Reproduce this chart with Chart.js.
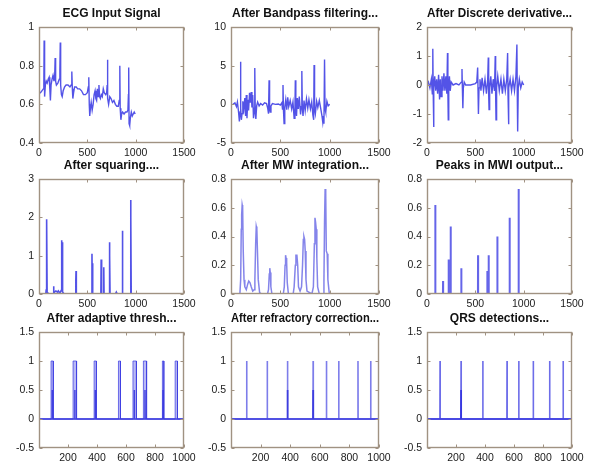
<!DOCTYPE html>
<html>
<head>
<meta charset="utf-8">
<script src="https://cdn.jsdelivr.net/npm/chart.js@4.4.0/dist/chart.umd.min.js"></script>
<style>
body { margin: 0; background: #fff; }
#wrap { position: relative; width: 592px; height: 465px; overflow: hidden; background: #fff; }
#wrap canvas { position: absolute; }
</style>
</head>
<body>
<div id="wrap"></div>
<script>
// ---- data ----
const titles = ["ECG Input Signal", "After Bandpass filtering...", "After Discrete derivative...",
  "After squaring....", "After MW integration...", "Peaks in MWI output...",
  "After adaptive thresh...", "After refractory correction...", "QRS detections..."];

const xTicksTop = [0, 500, 1000, 1500];
const xTicksBottom = [200, 400, 600, 800, 1000];
const ecgTicks = [0.4, 0.6, 0.8, 1];
const bpTicks = [-5, 0, 5, 10];
const dvTicks = [-2, -1, 0, 1, 2];
const sqTicks = [0, 1, 2, 3];
const mwTicks = [0, 0.2, 0.4, 0.6, 0.8];
const pulseTicks = [-0.5, 0, 0.5, 1, 1.5];

const ecgX = [0,15,30,45,50,53,56,60,66,75,85,95,105,112,118,125,135,145,155,162,167,172,180,195,210,216,220,224,232,240,250,265,280,300,320,333,338,341,345,350,358,368,385,400,420,440,460,480,500,510,515,520,525,532,540,550,560,570,580,588,596,604,612,620,627,635,645,655,665,675,690,700,705,708,712,720,732,745,760,775,790,805,820,830,836,840,847,855,865,880,895,910,920,925,928,932,938,945,955,965,975,985,995,1000];
const ecgY = [.66,.66,.67,.68,.70,.93,.66,.64,.70,.72,.71,.73,.74,.68,.62,.70,.73,.75,.72,.74,.84,.72,.70,.71,.73,.78,.92,.70,.65,.64,.67,.69,.70,.70,.69,.70,.72,.77,.68,.63,.66,.69,.69,.68,.68,.67,.65,.65,.66,.69,.74,.60,.54,.58,.61,.57,.60,.65,.67,.63,.62,.68,.64,.70,.64,.63,.65,.64,.68,.66,.65,.66,.70,.83,.63,.60,.64,.63,.61,.62,.60,.59,.59,.62,.80,.58,.52,.55,.56,.55,.56,.56,.57,.65,.79,.50,.49,.53,.56,.54,.55,.56,.55,.55];

const bpX = [20,40,55,65,75,85,92,96,100,105,112,120,130,140,148,155,162,170,178,188,196,205,212,220,228,236,241,246,252,260,270,285,300,320,340,360,372,380,386,391,397,405,420,450,480,500,515,522,527,532,538,545,555,565,575,585,600,615,628,640,648,652,657,664,672,682,692,705,712,718,723,730,740,752,765,778,790,805,818,830,838,842,847,855,868,880,895,910,922,930,936,942,948,953,960,972,985,1000];
const bpY = [0,.2,-.3,.3,-.8,-2.2,-1,5.5,-.5,-2.0,-1.2,.4,-.6,.8,-1.5,1.2,-1.8,.6,-.8,1.5,.2,1.6,-.4,1.2,-1.8,-.5,4.7,-1.2,-1.9,-.2,.3,-.2,.1,-.1,.2,.1,-.5,-1.2,3.1,-.4,-1.0,-.2,.1,0,.05,-.1,.2,-.6,2.5,-.8,-2.5,-.4,.6,-.7,.9,-.3,.5,-.6,.3,-1.8,-.8,3.1,-.5,-1.5,.8,-.6,1.0,-1.3,-.3,4.3,-.5,-1.5,.5,-.8,.7,-.5,.6,-.6,.3,-1.4,-2.0,5.1,-.5,-1.2,.4,-.4,.5,-.6,-1.5,-2.3,-1.5,-2.5,5.8,-.6,-1.0,.4,-.2,0];

const dvX = [0,15,30,45,55,60,64,68,72,80,90,100,110,120,130,138,145,155,165,175,185,195,205,212,216,220,225,232,240,250,270,300,330,355,362,366,371,376,385,400,450,500,515,524,528,532,538,548,558,570,585,600,615,628,634,638,642,648,660,672,685,698,706,710,714,720,732,748,765,780,795,810,825,834,838,842,848,860,875,890,905,920,930,934,938,944,955,970,985,1000];
const dvY = [0,.1,-.1,.2,-.3,1.25,-.2,-1.45,-.1,.3,-.2,.2,-.3,.35,-.5,.2,-.4,.3,-.2,.4,-.2,.3,-.3,1.1,-.2,-1.2,-.2,.3,-.2,.1,0,.05,0,.1,.55,-.1,-.8,-.1,.1,0,0,.05,.1,.6,-.2,-1.0,-.1,.2,-.2,.25,-.2,.2,-.3,.2,.95,-.3,-.85,-.1,.3,-.3,.2,-.2,1.0,-.3,-1.2,-.1,.3,-.2,.2,-.3,.2,-.2,.2,1.1,-.3,-1.35,-.1,.2,-.2,.2,-.2,.3,1.4,-.3,-1.6,-.1,.2,-.1,.1,0];

const sqX = [0,70,74,77,79,81,84,90,145,150,155,160,175,190,200,215,232,235,238,242,246,260,378,381,383,386,545,548,551,554,557,640,643,646,650,667,670,673,726,729,732,735,790,800,810,860,863,866,945,948,951,954,1000];
const sqY = [0,0,.1,1.55,.2,1.95,.05,0,0,.2,0,.05,.08,.05,.08,.02,.1,1.4,.2,1.35,.05,0,0,.35,.6,0,0,1.05,.3,.8,0,0,.9,.1,0,0,.7,0,0,1.35,1.0,0,0,.05,0,0,1.65,0,0,2.45,2.0,0,0];

const mwX = [0,90,98,104,108,113,118,124,132,140,155,170,180,192,205,220,235,242,250,256,262,268,276,290,310,370,380,388,393,398,404,415,530,540,548,553,558,564,570,582,630,640,652,658,668,676,684,700,715,725,733,739,746,752,760,770,820,835,845,851,857,864,870,878,895,935,942,948,954,960,966,975,982,995,1000];
const mwY = [0,0,.1,.45,.55,.62,.6,.3,.1,.05,.03,.07,.09,.08,.05,.02,.03,.1,.35,.47,.45,.3,.1,.01,0,0,.03,.14,.18,.15,.05,0,0,.05,.2,.27,.25,.22,.08,0,0,.05,.2,.27,.27,.2,.05,.02,.05,.2,.38,.40,.38,.3,.1,.02,0,.05,.35,.53,.5,.45,.25,.05,0,0,.1,.5,.73,.7,.3,.28,.1,.01,0];

const pkX = [86,166,224,245,355,528,624,638,728,855,948];
const pkH = [.62,.09,.24,.47,.18,.27,.16,.27,.4,.53,.73];

const thStart = [83,235,380,548,648,720,851,939];
const thEnd = [99,259,396,562,672,742,861,955];
const thHalf = [91,247,388,657,731,856];

const rfX = [106,245,382,555,645,728,858,944];
const rfHalf = [382,555];

const qrX = [90,235,385,552,633,733,846,939];
const qrHalf = [235];

// ---- helpers ----
const pts = (xs, ys) => xs.map((x, i) => ({ x: x, y: ys[i] }));
function spikes(xs, hs, w) {
  const p = [{ x: 0, y: 0 }];
  xs.forEach((x, i) => { p.push({ x: x - w, y: 0 }, { x: x, y: hs[i] }, { x: x + w, y: 0 }); });
  p.push({ x: 1000, y: 0 });
  return p;
}
function pulses(starts, ends, h) {
  const p = [{ x: 0, y: 0 }];
  starts.forEach((s, i) => { p.push({ x: s, y: 0 }, { x: s, y: h }, { x: ends[i], y: h }, { x: ends[i], y: 0 }); });
  p.push({ x: 1000, y: 0 });
  return p;
}
const fmt = v => String(Math.round(v * 1000) / 1000);

const BLUE = 'rgba(40,40,225,0.8)';
const PALE = 'rgba(100,100,230,0.45)';

// plot boxes in the page
const cols = [[39, 145], [231, 148], [427, 145]];
const rows = [[27, 116], [179, 115], [332, 116]];
const padL = 39, padT = 24, padB = 18, padR = 22;

const boxPlugin = {
  id: 'mbox',
  afterDatasetsDraw(chart) {
    const { ctx, chartArea: a, scales } = chart;
    const L = Math.round(a.left) + 0.5, R = Math.round(a.right) - 0.5;
    const T = Math.round(a.top) + 0.5, B = Math.round(a.bottom) - 0.5;
    ctx.save();
    ctx.strokeStyle = '#a09282';
    ctx.lineWidth = 1;
    ctx.beginPath();
    scales.x.ticks.forEach(t => {
      const p = Math.round(scales.x.getPixelForValue(t.value)) + 0.5;
      ctx.moveTo(p, B); ctx.lineTo(p, B - 3);
      ctx.moveTo(p, T); ctx.lineTo(p, T + 3);
    });
    scales.y.ticks.forEach(t => {
      const p = Math.round(scales.y.getPixelForValue(t.value)) + 0.5;
      ctx.moveTo(L, p); ctx.lineTo(L + 3, p);
      ctx.moveTo(R, p); ctx.lineTo(R - 3, p);
    });
    ctx.stroke();
    ctx.lineWidth = 1.4;
    ctx.strokeRect(L, T, R - L, B - T);
    ctx.restore();
  }
};

const wrap = document.getElementById('wrap');

function makeChart(idx, datasets, xTicks, xMax, yTicks) {
  const [left, w] = cols[idx % 3];
  const [top, h] = rows[Math.floor(idx / 3)];
  const cv = document.createElement('canvas');
  cv.width = w + padL + padR;
  cv.height = h + padT + padB;
  cv.style.left = (left - padL) + 'px';
  cv.style.top = (top - padT) + 'px';
  wrap.appendChild(cv);
  const tickFont = { family: 'Liberation Sans', size: 10.5 };
  new Chart(cv, {
    type: 'line',
    data: { datasets: datasets },
    plugins: [boxPlugin],
    options: {
      responsive: false,
      animation: false,
      layout: { padding: { left: 0, right: padR, top: 0, bottom: 0 } },
      elements: { point: { radius: 0 }, line: { tension: 0, borderWidth: 1.2 } },
      plugins: {
        legend: { display: false },
        tooltip: { enabled: false },
        title: {
          display: true, text: titles[idx], fullSize: false, color: '#111',
          font: { family: 'Liberation Sans', size: 12, weight: 'bold', lineHeight: '14px' },
          padding: { top: 4, bottom: 6 }
        }
      },
      scales: {
        x: {
          type: 'linear', min: 0, max: xMax,
          afterBuildTicks: s => { s.ticks = xTicks.map(v => ({ value: v })); },
          afterFit: s => { s.height = padB; },
          grid: { display: false, drawTicks: false },
          border: { display: false },
          ticks: { callback: fmt, font: tickFont, color: '#1a1a1a', padding: 4, maxRotation: 0, autoSkip: false }
        },
        y: {
          type: 'linear', min: yTicks[0], max: yTicks[yTicks.length - 1],
          afterBuildTicks: s => { s.ticks = yTicks.map(v => ({ value: v })); },
          afterFit: s => { s.width = padL; },
          grid: { display: false, drawTicks: false },
          border: { display: false },
          ticks: { callback: fmt, font: tickFont, color: '#1a1a1a', padding: 5, autoSkip: false }
        }
      }
    }
  });
}

const line = (data, extra) => Object.assign({ data: data, borderColor: BLUE, borderWidth: 1.4, fill: false }, extra || {});

makeChart(0, [line(pts(ecgX, ecgY))], xTicksTop, 1500, ecgTicks);
makeChart(1, [line(pts(bpX, bpY))], xTicksTop, 1500, bpTicks);
makeChart(2, [line(pts(dvX, dvY))], xTicksTop, 1500, dvTicks);
makeChart(3, [line(pts(sqX, sqY), { borderWidth: 1.6 })], xTicksTop, 1500, sqTicks);
makeChart(4, [line(pts(mwX, mwY), { borderColor: 'rgba(80,80,225,0.7)', borderWidth: 1.5 })], xTicksTop, 1500, mwTicks);
makeChart(5, [line(spikes(pkX, pkH, 1), { borderColor: 'rgba(50,50,225,0.75)', borderWidth: 2 })], xTicksTop, 1500, mwTicks);
makeChart(6, [
  line(pulses(thStart, thEnd, 1), { fill: 'origin', backgroundColor: PALE, borderColor: 'rgba(60,60,225,0.7)', borderWidth: 1 }),
  line(spikes(thHalf, thHalf.map(() => 0.5), 1), { borderColor: 'rgba(20,20,215,0.9)', borderWidth: 1.5 })
], xTicksBottom, 1000, pulseTicks);
makeChart(7, [
  line(spikes(rfX, rfX.map(() => 1), 1), { borderColor: 'rgba(70,70,225,0.7)', borderWidth: 1.6 }),
  line(spikes(rfHalf, rfHalf.map(() => 0.5), 1), { borderColor: 'rgba(20,20,215,0.9)', borderWidth: 1.6 })
], xTicksBottom, 1000, pulseTicks);
makeChart(8, [
  line(spikes(qrX, qrX.map(() => 1), 1), { borderColor: 'rgba(60,60,225,0.75)', borderWidth: 1.6 }),
  line(spikes(qrHalf, qrHalf.map(() => 0.5), 1), { borderColor: 'rgba(20,20,215,0.9)', borderWidth: 1.6 })
], xTicksBottom, 1000, pulseTicks);
</script>
</body>
</html>
